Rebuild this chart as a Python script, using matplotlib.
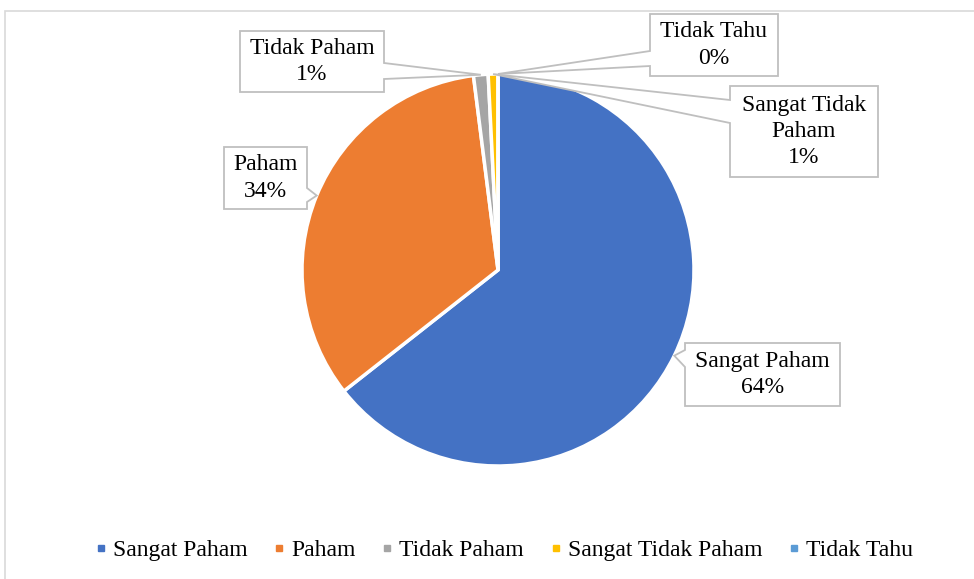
import numpy as np
import matplotlib
matplotlib.use("Agg")
import matplotlib.pyplot as plt
from matplotlib.patches import Polygon, Rectangle
from matplotlib.lines import Line2D

categories = ["Sangat Paham", "Paham", "Tidak Paham", "Sangat Tidak Paham", "Tidak Tahu"]
percent = [64.4, 33.6, 1.2, 0.8, 0.0]
colors = ["#4472C4", "#ED7D31", "#A5A5A5", "#FFC000", "#5B9BD5"]

W, H = 974, 579
plt.rcParams['font.family'] = ['Liberation Serif', 'DejaVu Serif']

fig = plt.figure(figsize=(W / 100, H / 100), dpi=100)
ax = fig.add_axes([0, 0, 1, 1])

# outer chart border
ax.add_patch(Rectangle((5, -5), W, H - 11 + 5, fill=False, edgecolor='#D9D9D9', lw=1.2))

cx, cy, r = 498, H - 270, 196
wedges, _ = ax.pie(percent, colors=colors, startangle=90, counterclock=False,
                   center=(cx, cy), radius=r, frame=True,
                   wedgeprops=dict(edgecolor='white', linewidth=2.5))
ax.set_xlim(0, W)
ax.set_ylim(0, H)
ax.set_aspect('equal')
ax.axis('off')

# callout boxes: (x0, y0, x1, y1) in image pixels, side of pointer, pointer base y range
boxes = {
    "Sangat Paham": ((685, 343, 840, 406), 'left', (350, 367)),
    "Paham": ((224, 147, 307, 209), 'right', (188, 202)),
    "Tidak Paham": ((240, 31, 384, 92), 'right', (63, 79)),
    "Sangat Tidak Paham": ((730, 86, 878, 177), 'left', (100, 123)),
    "Tidak Tahu": ((650, 14, 778, 76), 'left', (51, 66)),
}

for w, name, p in zip(wedges, categories, percent):
    mid = np.deg2rad((w.theta1 + w.theta2) / 2)
    tip = (cx + r * np.cos(mid), cy + r * np.sin(mid))
    (x0, y0, x1, y1), side, (b0, b1) = boxes[name]
    Y = lambda v: H - v
    if side == 'right':
        pts = [(x0, Y(y0)), (x1, Y(y0)), (x1, Y(b0)), tip, (x1, Y(b1)), (x1, Y(y1)), (x0, Y(y1))]
    else:
        pts = [(x0, Y(y0)), (x1, Y(y0)), (x1, Y(y1)), (x0, Y(y1)), (x0, Y(b1)), tip, (x0, Y(b0))]
    ax.add_patch(Polygon(pts, closed=True, facecolor='white', edgecolor='#BFBFBF', lw=1.3, zorder=5))
    label = "Sangat Tidak\nPaham" if name == "Sangat Tidak Paham" else name
    ax.text((x0 + x1) / 2, H - (y0 + y1) / 2, "%s\n%d%%" % (label, round(p)),
            ha='center', va='center', fontsize=17, linespacing=1.32, zorder=6)

handles = [Line2D([], [], marker='s', color=c, linestyle='None', markersize=5) for c in colors]
fig.legend(handles, categories, loc='center', bbox_to_anchor=(0.518, 1 - 550 / H), ncol=5,
           frameon=False, fontsize=17, handlelength=0.4, handletextpad=0.3, columnspacing=1.15)

fig.savefig("out.png", dpi=100)
